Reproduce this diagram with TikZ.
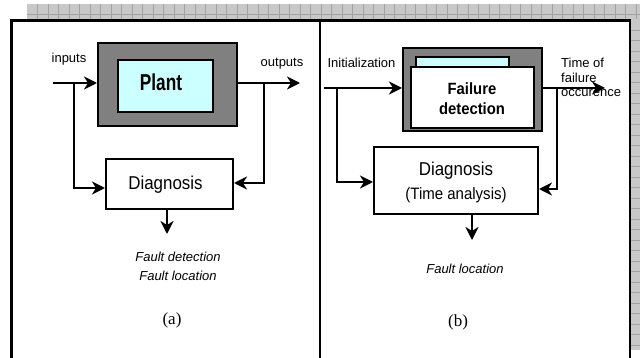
\documentclass[tikz,border=0pt]{standalone}
\usepackage{fontspec}
\setmainfont{Liberation Sans}
\newfontfamily\timesfont{Liberation Serif}
\newfontfamily\condfont[FakeStretch=0.91]{Liberation Sans}
\newfontfamily\plantfont[FakeStretch=0.75]{Liberation Sans}
\usetikzlibrary{arrows.meta}
\definecolor{boxgray}{HTML}{808080}
\definecolor{lightcyan}{HTML}{CCFFFF}
\definecolor{bandgray}{HTML}{C8C8C8}
\definecolor{bandline}{HTML}{A2A2A2}
\begin{document}
\begin{tikzpicture}[x=1pt,y=-1pt,
  arr/.style={line width=2pt,-{Stealth[length=13pt,width=13pt,inset=4pt]}},
  bx/.style={draw=black,line width=2pt,inner sep=0pt},
  graybox/.style={bx,fill=boxgray},
  cyanbox/.style={bx,fill=lightcyan},
  whitebox/.style={bx,fill=white},
  lbl/.style={inner sep=0pt,font=\fontsize{13}{16}\selectfont},
  ilbl/.style={inner sep=0pt,font=\fontsize{13}{19}\selectfont\itshape,align=center},
  captionlbl/.style={inner sep=0pt,font=\fontsize{17}{20}\selectfont\timesfont},
  bandln/.style={bandline,line width=0.8pt}
]
\useasboundingbox (0,0) rectangle (640,358);
% background band
\fill[bandgray] (27,4) rectangle (640,19.5);
\fill[bandgray] (631,4) rectangle (640,350);
\foreach \x in {37.5,48,...,636} \draw[bandln] (\x,4) -- (\x,19.5);
\draw[bandln] (27,14) -- (640,14);
\foreach \y in {30,40.5,...,350} \draw[bandln] (631,\y) -- (640,\y);
% frame
\draw[line width=2.5pt] (11.5,358) -- (11.5,20.5) -- (630,20.5) -- (630,358);
\draw[line width=2.5pt] (320,20.5) -- (320,358);

% ---------- panel (a)
\node[graybox,minimum width=139pt,minimum height=83pt] (plantO) at (167.5,84.5) {};
\node[cyanbox,minimum width=95pt,minimum height=52pt] (plantI) at (165.5,86) {};
\node[inner sep=0pt,anchor=base,font=\fontsize{23}{26}\selectfont\plantfont\bfseries] (plantT) at (161,90.7) {Plant};
\node[bx,minimum width=127pt,minimum height=50pt] (diagA) at (169.5,184) {};
\node[inner sep=0pt,anchor=base,font=\fontsize{18.6}{22}\selectfont\condfont] (diagAT) at (165.5,189.5) {Diagnosis};

\coordinate (inA) at (53,83);
\coordinate (jA1) at (74,83);
\coordinate (jA2) at (264,83);
\coordinate (outA) at (300,83);
\coordinate (dnA) at (167,234);
\draw[arr] (inA) -- (plantO.west |- inA);
\draw[arr] (jA1) |- (diagA.west |- 0,188);
\draw[arr] (plantO.east |- outA) -- (outA);
\draw[arr] (jA2) |- (diagA.east |- 0,183);
\draw[arr] (diagA.south -| dnA) -- (dnA);

\node[lbl,anchor=base] (inL) at (69,63) {inputs};
\node[lbl,anchor=base] (outL) at (282,67) {outputs};
\node[ilbl] (resA) at (178,266.5) {Fault detection\\Fault location};
\node[captionlbl] (capA) at (172,320) {(a)};

% ---------- panel (b)
\node[graybox,minimum width=139pt,minimum height=83pt] (fdO) at (472.5,89.5) {};
\node[cyanbox,minimum width=93pt,minimum height=23pt] (fdB) at (462.5,68.5) {};
\node[whitebox,minimum width=123pt,minimum height=61pt] (fdF) at (472.5,97.5) {};
\node[inner sep=0pt,align=center,anchor=base,
      font=\fontsize{16.3}{20}\selectfont\condfont\bfseries] (fdT) at (472,115) {Failure\\detection};
\node[bx,minimum width=164pt,minimum height=67pt] (diagB) at (456,180.5) {};
\node[inner sep=0pt,anchor=base,font=\fontsize{18.6}{22}\selectfont\condfont] (diagBT1) at (456,176) {Diagnosis};
\node[inner sep=0pt,anchor=base,font=\fontsize{16.5}{20}\selectfont\condfont] (diagBT2) at (456,200) {(Time analysis)};

\coordinate (inB) at (324,88);
\coordinate (jB1) at (337,88);
\coordinate (jB2) at (557,88);
\coordinate (outB) at (605,88);
\coordinate (dnB) at (472,240);
\draw[arr] (inB) -- (fdO.west |- inB);
\draw[arr] (jB1) |- (diagB.west |- 0,182);
\draw[arr] (fdO.east |- outB) -- (outB);
\draw[arr] (jB2) |- (diagB.east |- 0,189);
\draw[arr] (diagB.south -| dnB) -- (dnB);

\node[lbl,anchor=base] (initL) at (361.5,67.7) {Initialization};
\node[inner sep=0pt,anchor=base west,align=left,font=\fontsize{13}{14.5}\selectfont] (timeL) at (561,96.7) {Time of\\failure\\occurence};
\node[ilbl] (resB) at (465,269) {Fault location};
\node[captionlbl] (capB) at (458,322) {(b)};
\end{tikzpicture}
\end{document}
